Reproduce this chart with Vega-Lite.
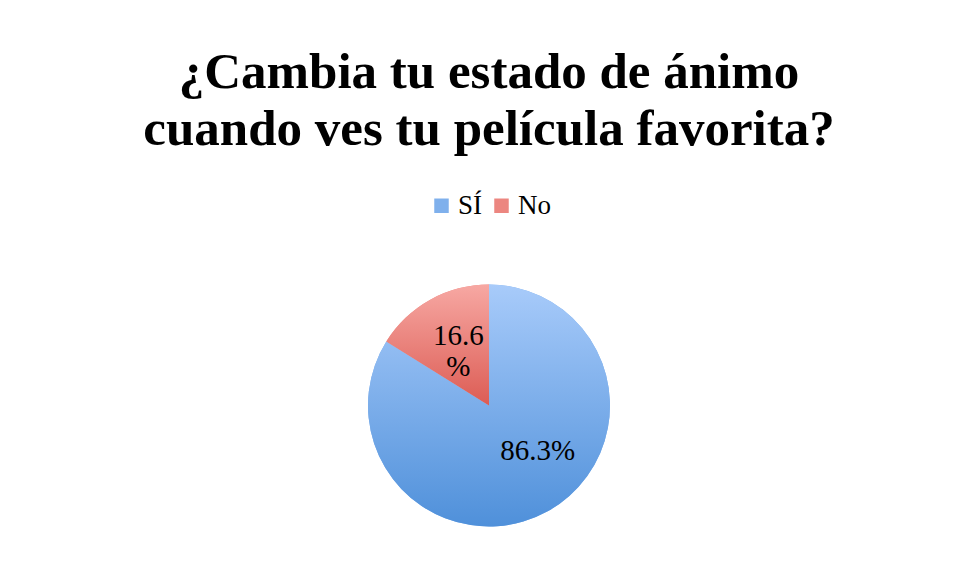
{
  "$schema": "https://vega.github.io/schema/vega-lite/v6.json",
  "width": 956,
  "height": 578,
  "autosize": {"type": "fit", "contains": "padding"},
  "padding": {"left": 22, "right": 0, "top": 47, "bottom": 0},
  "background": "white",
  "title": {
    "text": ["¿Cambia tu estado de ánimo", "cuando ves tu película favorita?"],
    "font": "Liberation Serif",
    "fontSize": 51,
    "fontWeight": "bold",
    "lineHeight": 57,
    "color": "#000000",
    "anchor": "middle",
    "offset": 36
  },
  "data": {
    "values": [
      {"cat": "SÍ", "value": 86.3, "ord": 1, "label": "86.3%"},
      {"cat": "No", "value": 16.6, "ord": 2, "label": "16.6\n%"}
    ]
  },
  "encoding": {
    "theta": {"field": "value", "type": "quantitative", "stack": true},
    "order": {"field": "ord", "type": "quantitative"}
  },
  "layer": [
    {
      "mark": {"type": "arc", "outerRadius": 121},
      "encoding": {
        "color": {
          "field": "cat",
          "type": "nominal",
          "sort": ["SÍ", "No"],
          "scale": {"domain": ["SÍ", "No"], "range": ["#7fb0ec", "#ec8680"]},
          "legend": {
            "title": null,
            "orient": "top",
            "direction": "horizontal",
            "symbolType": "square",
            "symbolSize": 210,
            "symbolStrokeWidth": 0,
            "labelFont": "Liberation Serif",
            "labelFontSize": 27,
            "labelColor": "#000000",
            "labelOffset": 3,
            "columnPadding": 5,
            "offset": 14
          }
        }
      }
    },
    {
      "mark": {"type": "arc", "outerRadius": 121},
      "encoding": {
        "fill": {
          "condition": {
            "test": "datum.cat === 'No'",
            "value": {
              "gradient": "linear", "x1": 0, "y1": 0, "x2": 0, "y2": 1,
              "stops": [{"offset": 0, "color": "#f7a8a3"}, {"offset": 1, "color": "#dc5c54"}]
            }
          },
          "value": {
            "gradient": "linear", "x1": 0, "y1": 0, "x2": 0, "y2": 1,
            "stops": [{"offset": 0, "color": "#a8cbfa"}, {"offset": 1, "color": "#4f90da"}]
          }
        }
      }
    },
    {
      "mark": {"type": "text", "radius": 63, "dx": 18, "dy": -10, "font": "Liberation Serif", "fontSize": 29, "color": "#000000", "lineBreak": "\n", "lineHeight": 31},
      "encoding": {
        "text": {"condition": {"test": "datum.cat === 'SÍ'", "field": "label"}, "value": ""}
      }
    },
    {
      "mark": {"type": "text", "radius": 63, "dy": -14, "font": "Liberation Serif", "fontSize": 29, "color": "#000000", "lineBreak": "\n", "lineHeight": 31},
      "encoding": {
        "text": {"condition": {"test": "datum.cat === 'No'", "field": "label"}, "value": ""}
      }
    }
  ],
  "config": {
    "view": {"stroke": null},
    "legend": {"layout": {"top": {"anchor": "middle"}}}
  }
}
